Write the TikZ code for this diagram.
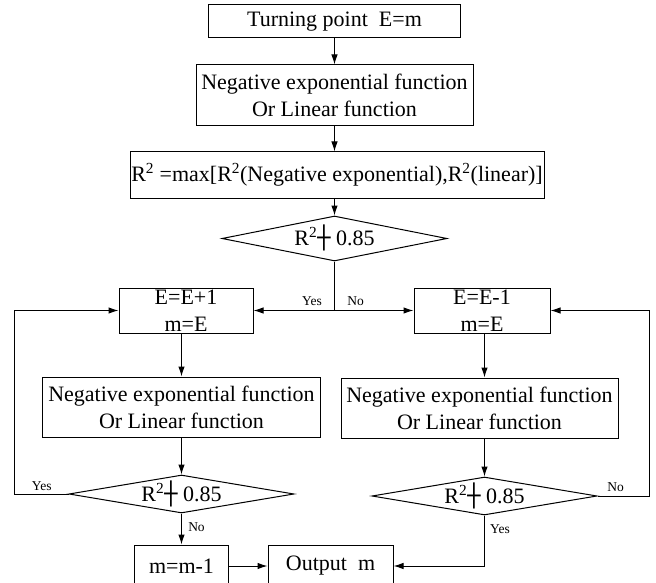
\documentclass[tikz,border=0pt]{standalone}
\usepackage{fontspec}
\setmainfont{Liberation Serif}
\newfontfamily\boxfont{DejaVu Sans}
\usetikzlibrary{arrows.meta, shapes}
\usetikzlibrary{positioning}

% test text, kept out of the diamond's size
\newcommand{\rtest}{\smash{\makebox[0pt]{\raisebox{-7pt}{R\textsuperscript{2}{\boxfont ┼} 0.85}}}}

\begin{document}
\begin{tikzpicture}[x=1pt,y=-1pt,line width=1pt]

\tikzset{
  % plain process box
  procbox/.style={draw, rectangle, inner sep=0pt, align=center,
    font=\fontsize{22}{27}\selectfont},
  % test on R^2
  testbox/.style={draw, diamond, inner sep=0pt,
    minimum width=225pt, font=\fontsize{22}{27}\selectfont},
  % small yes / no words
  answer/.style={inner sep=0pt, font=\fontsize{13.5}{16}\selectfont},
  >={Latex[length=10pt,width=6.5pt]},
}

\useasboundingbox (0,0) rectangle (656,583);
\clip (0,0) rectangle (656,583);

% main column
\node[procbox, minimum width=252pt, minimum height=33pt] (start) at (334.5,21.5) {Turning point\ \ E=m};
\node[procbox, minimum width=277pt, minimum height=61pt] (fit) at (334.5,95.5) {Negative exponential function\\Or Linear function};
\node[procbox, minimum width=414pt, minimum height=46pt] (rmax) at (337,175) {R\textsuperscript{2} =max[R\textsuperscript{2}(Negative exponential),R\textsuperscript{2}(linear)]};
\node[testbox, minimum height=45pt] (chk) at (334.5,238.5) {\rtest};

% left branch
\node[procbox, minimum width=134pt, minimum height=45pt] (inc) at (186,310.5) {E=E+1\\m=E};
\node[procbox, minimum width=278pt, minimum height=60pt] (fitL) at (181.5,407) {Negative exponential function\\Or Linear function};
\node[testbox, minimum height=38pt] (chkL) at (181.5,494) {\rtest};
\node[procbox, minimum width=94pt, minimum height=42pt] (dim) at (181.5,566) {m=m-1};

% right branch
\node[procbox, minimum width=136pt, minimum height=45pt] (dec) at (482,310.5) {E=E-1\\m=E};
\node[procbox, minimum width=277pt, minimum height=60pt] (fitR) at (479.5,408) {Negative exponential function\\Or Linear function};
\node[testbox, minimum height=38pt] (chkR) at (484.5,496) {\rtest};

\node[procbox, minimum width=125pt, minimum height=42pt] (out) at (330.5,566) {Output\ \ m};

\coordinate (split) at (chk.south |- inc.east);
\coordinate (backL) at (14,494);
\coordinate (backR) at (649,496);

% connectors
\draw[->] (start) -- (fit);
\draw[->] (fit.south) -- (fit.south |- rmax.north);
\draw[->] (rmax.south -| chk.north) -- (chk.north);
\draw (chk.south) -- (split);
\draw[->] (split) -- (inc.east);
\draw[->] (split) -- (dec.west);

\draw[->] (inc.south -| fitL.north) -- (fitL.north);
\draw[->] (fitL) -- (chkL);
\draw[->] (chkL) -- (dim);
\draw[->] (chkL.west) -- (backL) |- (inc.west);
\draw[->] (dim) -- (out);

\draw[->] (dec.south -| chkR.north) -- (chkR.north |- fitR.north);
\draw[->] (fitR.south -| chkR.north) -- (chkR.north);
\draw[->] (chkR.east) -- (backR) |- (dec.east);
\draw[->] (chkR.south) |- (out.east);

% yes / no
\node[answer] (yes0) at (312,301.5) {Yes};
\node[answer] (no0) at (355.5,301.5) {No};
\node[answer] (yesL) at (41.7,486) {Yes};
\node[answer] (noL) at (196.5,527) {No};
\node[answer] (noR) at (615.5,487.5) {No};
\node[answer] (yesR) at (500,529) {Yes};

\end{tikzpicture}
\end{document}
